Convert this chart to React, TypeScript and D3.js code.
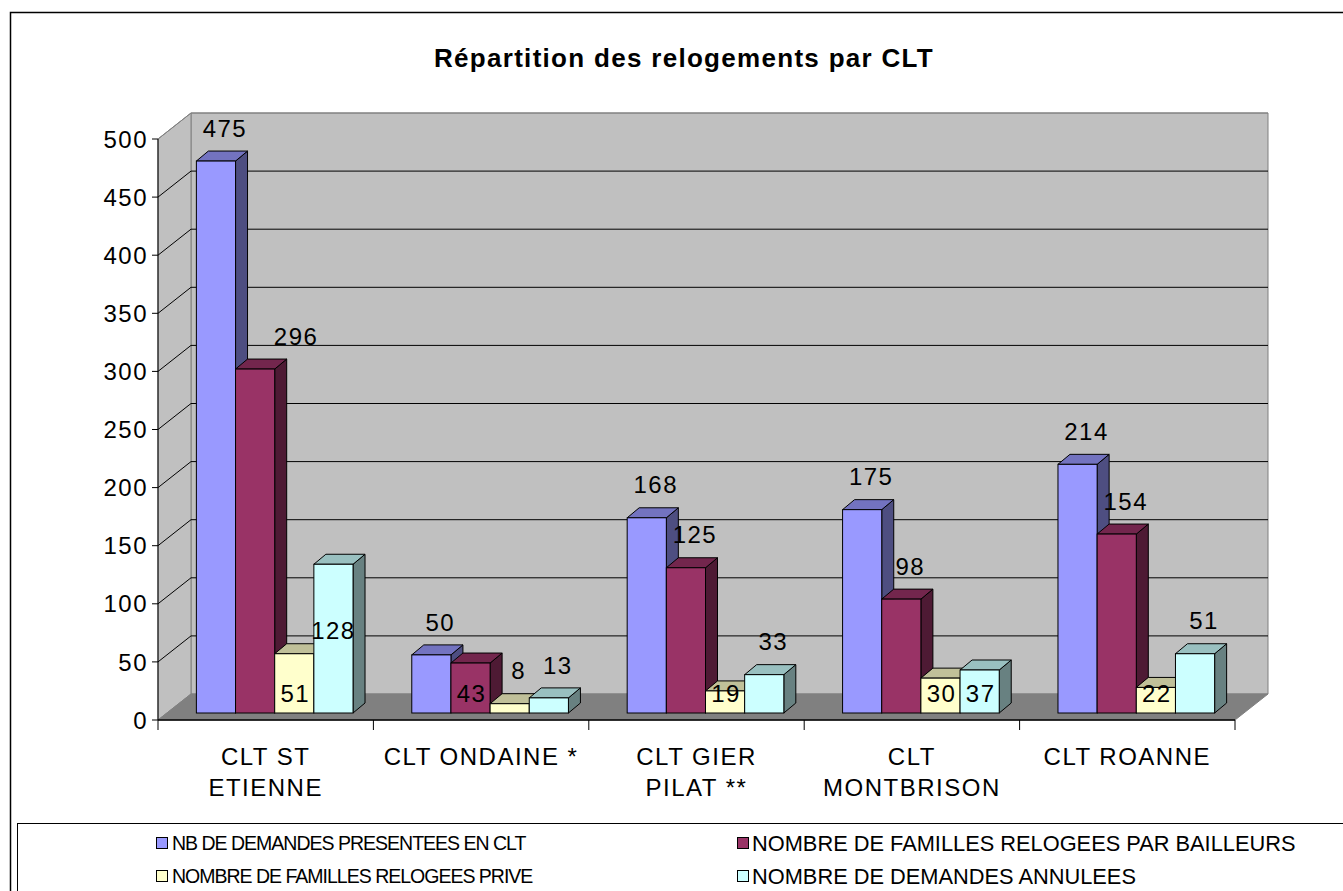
import { useEffect, useRef } from 'react';
import * as d3 from 'd3';

// categories (CLT) and the four series
const categories: string[][] = [
  ['CLT ST', 'ETIENNE'],
  ['CLT ONDAINE *'],
  ['CLT GIER', 'PILAT **'],
  ['CLT', 'MONTBRISON'],
  ['CLT ROANNE'],
];
const seriesNames = [
  'NB DE DEMANDES PRESENTEES EN CLT',
  'NOMBRE DE FAMILLES RELOGEES PAR BAILLEURS',
  'NOMBRE DE FAMILLES RELOGEES PRIVE',
  'NOMBRE DE DEMANDES ANNULEES',
];
const demandes = [475, 50, 168, 175, 214];
const bailleurs = [296, 43, 125, 98, 154];
const prive = [51, 8, 19, 30, 22];
const annulees = [128, 13, 33, 37, 51];
const yTicks = [0, 50, 100, 150, 200, 250, 300, 350, 400, 450, 500];
// where the source chart puts each value label (per category, per series)
const labelPlace = [
  ['top', 'topRight', 'base', 'mid'],
  ['top', 'base', 'top', 'top'],
  ['top', 'top', 'base', 'top'],
  ['top', 'top', 'base', 'base'],
  ['top', 'top', 'base', 'top'],
];

const seriesColors = ['#9999FF', '#993366', '#FFFFCC', '#CCFFFF'];

const App = () => {
  const svgRef = useRef<SVGSVGElement>(null);

  useEffect(() => {
    if (!svgRef.current) return;
    const svg = d3.select(svgRef.current);
    svg.selectAll('*').remove();

    const values = [demandes, bailleurs, prive, annulees];
    const font = 'Liberation Sans, Arial, sans-serif';

    // 3D frame: front plane and depth offset
    const x0 = 158;
    const x1 = 1235;
    const depth = { dx: 33, dy: -26 };
    const barOff = { dx: 9, dy: -7 };
    const barDepth = { dx: 12, dy: -10 };

    const xScale = d3
      .scaleBand<number>()
      .domain(categories.map((_, i) => i))
      .range([x0, x1]);
    const inner = d3
      .scaleBand<number>()
      .domain(seriesNames.map((_, i) => i))
      .range([0, xScale.bandwidth()])
      .paddingInner(0)
      .paddingOuter(0.75);
    const yScale = d3.scaleLinear().domain([0, 500]).range([720, 139]);

    // outer frame
    svg
      .append('rect')
      .attr('x', 10.5)
      .attr('y', 12.5)
      .attr('width', 1400)
      .attr('height', 900)
      .attr('fill', 'white')
      .attr('stroke', '#000')
      .attr('stroke-width', 1.5);

    svg
      .append('text')
      .attr('x', 684)
      .attr('y', 67)
      .attr('text-anchor', 'middle')
      .attr('font-family', font)
      .attr('font-weight', 'bold')
      .attr('font-size', 26)
      .attr('letter-spacing', 1.3)
      .text('Répartition des relogements par CLT');

    const yTop = yScale(500);
    const yBot = yScale(0);
    const poly = (pts: number[][]) => pts.map((p) => p.join(',')).join(' ');

    // back wall
    svg
      .append('polygon')
      .attr(
        'points',
        poly([
          [x0 + depth.dx, yTop + depth.dy],
          [x1 + depth.dx, yTop + depth.dy],
          [x1 + depth.dx, yBot + depth.dy],
          [x0 + depth.dx, yBot + depth.dy],
        ])
      )
      .attr('fill', '#C0C0C0')
      .attr('stroke', '#808080');
    // side wall
    svg
      .append('polygon')
      .attr(
        'points',
        poly([
          [x0, yTop],
          [x0 + depth.dx, yTop + depth.dy],
          [x0 + depth.dx, yBot + depth.dy],
          [x0, yBot],
        ])
      )
      .attr('fill', '#C0C0C0')
      .attr('stroke', '#808080');
    // floor
    svg
      .append('polygon')
      .attr(
        'points',
        poly([
          [x0, yBot],
          [x1, yBot],
          [x1 + depth.dx, yBot + depth.dy],
          [x0 + depth.dx, yBot + depth.dy],
        ])
      )
      .attr('fill', '#808080')
      .attr('stroke', '#808080');

    // gridlines on side and back walls
    const grid = svg.append('g');
    yTicks
      .filter((t) => t > 0)
      .forEach((t) => {
        const y = yScale(t);
        grid
          .append('polyline')
          .attr(
            'points',
            poly([
              [x0, y],
              [x0 + depth.dx, y + depth.dy],
              [x1 + depth.dx, y + depth.dy],
            ])
          )
          .attr('fill', 'none')
          .attr('stroke', t === 500 ? '#808080' : '#000')
          .attr('stroke-width', 1);
      });

    // y axis
    svg
      .append('line')
      .attr('x1', x0)
      .attr('x2', x0)
      .attr('y1', yTop)
      .attr('y2', yBot)
      .attr('stroke', '#000');
    const yAxis = svg.append('g');
    yTicks.forEach((t) => {
      yAxis
        .append('line')
        .attr('x1', x0 - 6)
        .attr('x2', x0)
        .attr('y1', yScale(t))
        .attr('y2', yScale(t))
        .attr('stroke', '#000');
      yAxis
        .append('text')
        .attr('x', x0 - 10)
        .attr('y', yScale(t))
        .attr('dy', '0.36em')
        .attr('text-anchor', 'end')
        .attr('font-family', font)
        .attr('font-size', 24)
        .attr('letter-spacing', 1.5)
        .text(t);
    });

    // x axis
    svg
      .append('line')
      .attr('x1', x0)
      .attr('x2', x1)
      .attr('y1', yBot)
      .attr('y2', yBot)
      .attr('stroke', '#000')
      .attr('stroke-width', 1.5);
    categories.forEach((lines, i) => {
      const bx = xScale(i)!;
      svg
        .append('line')
        .attr('x1', bx)
        .attr('x2', bx)
        .attr('y1', yBot)
        .attr('y2', yBot + 10)
        .attr('stroke', '#000');
      const t = svg
        .append('text')
        .attr('x', bx + xScale.bandwidth() / 2)
        .attr('y', 765)
        .attr('text-anchor', 'middle')
        .attr('font-family', font)
        .attr('font-size', 24)
        .attr('letter-spacing', 1.5);
      lines.forEach((l, k) => {
        t.append('tspan')
          .attr('x', bx + xScale.bandwidth() / 2)
          .attr('dy', k === 0 ? 0 : 31)
          .text(l);
      });
    });
    svg
      .append('line')
      .attr('x1', x1)
      .attr('x2', x1)
      .attr('y1', yBot)
      .attr('y2', yBot + 10)
      .attr('stroke', '#000');

    // 3D bars, drawn left to right
    const bars = svg.append('g');
    const labels = svg.append('g');
    categories.forEach((_, ci) => {
      seriesNames.forEach((_, si) => {
        const v = values[si][ci];
        const color = d3.color(seriesColors[si])!;
        const left = xScale(ci)! + inner(si)! + barOff.dx;
        const right = left + inner.bandwidth();
        const top = yScale(v) + barOff.dy;
        const bottom = yScale(0) + barOff.dy;
        const g = bars.append('g').attr('stroke', '#000').attr('stroke-width', 1);
        // side face
        g.append('polygon')
          .attr(
            'points',
            poly([
              [right, top],
              [right + barDepth.dx, top + barDepth.dy],
              [right + barDepth.dx, bottom + barDepth.dy],
              [right, bottom],
            ])
          )
          .attr('fill', color.darker(1.9).formatHex());
        // top face
        g.append('polygon')
          .attr(
            'points',
            poly([
              [left, top],
              [left + barDepth.dx, top + barDepth.dy],
              [right + barDepth.dx, top + barDepth.dy],
              [right, top],
            ])
          )
          .attr('fill', color.darker(0.8).formatHex());
        // front face
        g.append('rect')
          .attr('x', left)
          .attr('y', top)
          .attr('width', right - left)
          .attr('height', bottom - top)
          .attr('fill', color.formatHex());

        const place = labelPlace[ci][si];
        const cx = (left + right) / 2;
        let lx = cx + 9;
        let ly = top - 33;
        if (place === 'topRight') lx = cx + 41;
        if (place === 'base') {
          lx = cx + 1;
          ly = bottom - 20;
        }
        if (place === 'mid') {
          lx = cx;
          ly = (top + bottom) / 2 - 8;
        }
        labels
          .append('text')
          .attr('x', lx)
          .attr('y', ly)
          .attr('dy', '0.36em')
          .attr('text-anchor', 'middle')
          .attr('font-family', font)
          .attr('font-size', 24)
          .attr('letter-spacing', 1.5)
          .text(v);
      });
    });

    // legend
    const lg = svg.append('g');
    lg.append('rect')
      .attr('x', 17.5)
      .attr('y', 823.5)
      .attr('width', 1400)
      .attr('height', 100)
      .attr('fill', 'white')
      .attr('stroke', '#000');
    seriesNames.forEach((name, i) => {
      const col = i % 2;
      const row = Math.floor(i / 2);
      const lx = col === 0 ? 156 : 737;
      const ly = 843 + row * 33;
      lg.append('rect')
        .attr('x', lx + 0.5)
        .attr('y', ly - 5.5)
        .attr('width', 11)
        .attr('height', 11)
        .attr('fill', seriesColors[i])
        .attr('stroke', '#000');
      lg.append('text')
        .attr('x', col === 0 ? lx + 16 : lx + 15)
        .attr('y', ly)
        .attr('dy', '0.36em')
        .attr('font-family', font)
        .attr('font-size', col === 0 ? 19.5 : 21.8)
        .attr('letter-spacing', col === 0 ? -1 : 0)
        .text(name);
    });
  }, []);

  return (
    <svg
      ref={svgRef}
      width={1343}
      height={891}
      style={{ position: 'absolute', left: 0, top: 0 }}
    ></svg>
  );
};

export default App;
